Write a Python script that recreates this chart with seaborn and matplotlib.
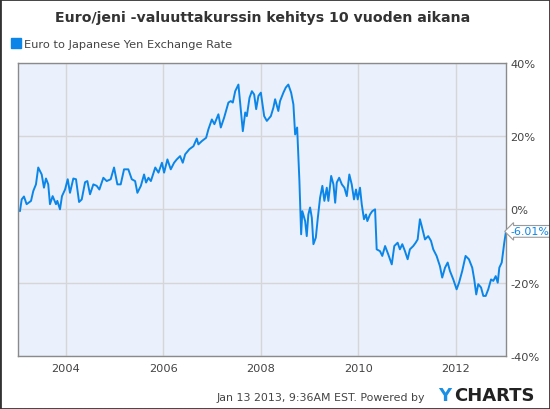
import numpy as np
import pandas as pd
import matplotlib
matplotlib.use("Agg")
import matplotlib.pyplot as plt
import matplotlib.dates as mdates
from matplotlib.lines import Line2D
from matplotlib.ticker import FixedLocator, FuncFormatter
import seaborn as sns

# Euro/JPY change vs. start (%)
dates = [
    "2003-01-24", "2003-02-06", "2003-02-23", "2003-03-15", "2003-04-17", "2003-05-04",
    "2003-05-24", "2003-06-10", "2003-07-06", "2003-07-23", "2003-08-07", "2003-08-24",
    "2003-09-06", "2003-09-26", "2003-10-21", "2003-10-31", "2003-11-20", "2003-12-05",
    "2003-12-28", "2004-01-17", "2004-02-03", "2004-02-28", "2004-03-19", "2004-04-11",
    "2004-05-01", "2004-05-26", "2004-06-12", "2004-07-02", "2004-07-27", "2004-08-21",
    "2004-09-10", "2004-10-10", "2004-11-04", "2004-12-04", "2004-12-29", "2005-01-23",
    "2005-02-17", "2005-03-14", "2005-04-15", "2005-05-11", "2005-06-05", "2005-06-22",
    "2005-07-18", "2005-08-11", "2005-08-26", "2005-09-13", "2005-10-01", "2005-11-03",
    "2005-11-27", "2005-12-23", "2006-01-08", "2006-02-02", "2006-02-27", "2006-03-24",
    "2006-04-13", "2006-05-08", "2006-05-28", "2006-06-15", "2006-07-17", "2006-08-16",
    "2006-09-10", "2006-09-22", "2006-10-18", "2006-11-19", "2006-12-06", "2007-01-01",
    "2007-01-20", "2007-02-19", "2007-03-09", "2007-04-03", "2007-05-05", "2007-05-23",
    "2007-06-07", "2007-06-25", "2007-07-19", "2007-08-01", "2007-08-21", "2007-09-08",
    "2007-09-20", "2007-10-10", "2007-10-28", "2007-11-14", "2007-11-29", "2007-12-16",
    "2008-01-03", "2008-01-28", "2008-02-17", "2008-03-18", "2008-04-06", "2008-04-19",
    "2008-05-13", "2008-05-26", "2008-06-20", "2008-07-08", "2008-07-27", "2008-08-17",
    "2008-09-03", "2008-09-16", "2008-10-01", "2008-10-18", "2008-10-31", "2008-11-09",
    "2008-11-30", "2008-12-12", "2008-12-24", "2009-01-06", "2009-01-19", "2009-01-31",
    "2009-02-18", "2009-03-05", "2009-03-22", "2009-04-08", "2009-04-23", "2009-05-11",
    "2009-05-23", "2009-06-13", "2009-06-30", "2009-07-13", "2009-07-25", "2009-08-12",
    "2009-09-01", "2009-09-20", "2009-10-08", "2009-10-27", "2009-11-14", "2009-12-01",
    "2009-12-16", "2009-12-29", "2010-01-15", "2010-01-28", "2010-02-14", "2010-03-01",
    "2010-03-11", "2010-03-31", "2010-04-17", "2010-05-08", "2010-05-20", "2010-06-14",
    "2010-07-01", "2010-07-22", "2010-08-15", "2010-09-10", "2010-09-29", "2010-10-24",
    "2010-11-10", "2010-11-28", "2010-12-18", "2011-01-07", "2011-01-24", "2011-02-18",
    "2011-03-08", "2011-03-23", "2011-04-09", "2011-04-22", "2011-05-17", "2011-06-10",
    "2011-07-01", "2011-07-18", "2011-08-12", "2011-09-06", "2011-09-23", "2011-10-14",
    "2011-11-03", "2011-11-20", "2011-12-15", "2012-01-09", "2012-01-27", "2012-02-20",
    "2012-03-16", "2012-04-10", "2012-05-05", "2012-05-20", "2012-06-04", "2012-06-19",
    "2012-07-10", "2012-07-27", "2012-08-14", "2012-09-02", "2012-09-23", "2012-10-10",
    "2012-10-28", "2012-11-12", "2012-11-24", "2012-12-12", "2012-12-31", "2013-01-13",
]
change_pct = [
    -0.5, 2.7, 3.5, 1.4, 2.3, 5.0,
    6.8, 11.4, 9.5, 5.9, 8.4, 6.8,
    1.4, 3.6, 1.4, 2.3, 0.0, 3.6,
    5.4, 8.2, 4.5, 8.4, 8.2, 2.0,
    2.7, 7.4, 7.7, 4.1, 6.8, 6.4,
    5.4, 8.6, 7.7, 8.2, 11.4, 6.8,
    6.8, 10.9, 10.9, 8.2, 7.7, 4.5,
    6.4, 9.5, 7.3, 8.6, 7.7, 11.4,
    10.0, 12.7, 10.0, 13.6, 10.9, 12.7,
    13.6, 14.5, 12.7, 15.0, 16.4, 17.2,
    19.3, 17.7, 18.6, 19.5, 21.8, 24.5,
    23.2, 25.9, 22.3, 25.0, 29.1, 29.5,
    29.1, 32.2, 34.0, 29.1, 21.3, 26.4,
    25.4, 30.4, 32.2, 31.3, 27.3, 30.9,
    31.8, 25.4, 24.1, 25.4, 27.7, 30.0,
    26.8, 29.5, 31.8, 33.2, 34.0, 31.8,
    28.6, 20.4, 22.3, 7.7, -6.8, -0.5,
    -3.2, -7.3, -1.4, 0.5, -2.3, -9.5,
    -7.7, -2.3, 3.2, 6.4, 2.3, 5.9,
    2.3, 9.1, 6.8, 1.8, 7.3, 8.6,
    6.8, 5.9, 3.6, 9.5, 6.8, 2.7,
    5.4, 2.7, 5.9, 1.4, -2.7, -1.4,
    -3.2, -1.4, -0.5, 0.0, -10.9, -11.4,
    -12.7, -10.0, -12.3, -15.0, -10.0, -9.1,
    -10.9, -9.5, -11.4, -13.6, -10.9, -10.0,
    -9.1, -8.2, -2.7, -4.5, -8.2, -7.3,
    -8.6, -10.9, -12.7, -15.5, -18.6, -15.9,
    -14.5, -16.8, -19.1, -21.8, -20.0, -16.8,
    -12.7, -13.6, -15.9, -19.1, -23.2, -20.4,
    -21.3, -23.6, -23.6, -21.8, -19.1, -19.5,
    -18.2, -20.0, -15.9, -14.5, -9.1, -6.01,
]
y_ticks = [40, 20, 0, -20, -40]
x_years = [2004, 2006, 2008, 2010, 2012]
series_name = "Euro to Japanese Yen Exchange Rate"
title = "Euro/jeni -valuuttakurssin kehitys 10 vuoden aikana"
footer = "Jan 13 2013, 9:36AM EST. Powered by "

df = pd.DataFrame({"date": pd.to_datetime(dates), "change": change_pct})

sns.set_style("white")
plt.rcParams["font.family"] = ["DejaVu Sans"]

line_color = "#0B86E8"
text_grey = "#444444"

fig = plt.figure(figsize=(5.5, 4.1), dpi=100)
ax = fig.add_axes([0.0336, 0.129, 0.8864, 0.716])
ax.set_facecolor("#EAF0FC")

sns.lineplot(data=df, x="date", y="change", ax=ax, color=line_color, linewidth=1.4)

ax.set_xlim(pd.Timestamp("2003-01-13"), pd.Timestamp("2013-01-13"))
ax.set_ylim(-40, 40)
ax.set_xlabel("")
ax.set_ylabel("")

ax.xaxis.set_major_locator(FixedLocator([mdates.date2num(pd.Timestamp(f"{y}-01-01")) for y in x_years]))
ax.xaxis.set_major_formatter(FuncFormatter(lambda v, p: mdates.num2date(v).strftime("%Y")))
ax.yaxis.set_major_locator(FixedLocator(y_ticks))
ax.yaxis.set_major_formatter(FuncFormatter(lambda v, p: f"{v:.0f}%"))
ax.yaxis.tick_right()
ax.tick_params(axis="both", length=0, labelsize=8.2, labelcolor=text_grey)
ax.tick_params(axis="x", pad=5)
ax.tick_params(axis="y", pad=3)
ax.grid(True, color="#D6D6D6", linewidth=1)
for s in ax.spines.values():
    s.set_color("#8A8A8A")
    s.set_linewidth(1)

# last value tag
last = df.iloc[-1]
ax.annotate(f"{last['change']:.2f}%", xy=(1, last["change"]), xycoords=("axes fraction", "data"),
            xytext=(3.5, 0), textcoords="offset points", va="center", ha="left",
            fontsize=7.9, color=line_color,
            bbox=dict(boxstyle="larrow,pad=0.08", fc="white", ec="#9A9A9A", lw=0.8))

fig.text(0.477, 0.955, title, ha="center", va="center", fontsize=10.2, fontweight="bold", color="#333333")

handle = Line2D([], [], marker="s", linestyle="", color=line_color, markersize=6.5)
fig.legend([handle], [series_name], loc="center left", bbox_to_anchor=(0.008, 0.891),
           frameon=False, fontsize=8.2, handletextpad=0.1, borderaxespad=0, handlelength=1.2,
           labelcolor=text_grey)

fig.text(0.78, 0.022, footer, ha="right", va="baseline", fontsize=7.9, color=text_grey)
fig.text(0.797, 0.022, "Y", ha="left", va="baseline", fontsize=13, fontweight="bold", color="#1A8FE3")
fig.text(0.826, 0.022, "CHARTS", ha="left", va="baseline", fontsize=13, fontweight="bold", color="#222222")

# outer border
fig.patches.append(plt.Rectangle((0, 0), 1, 1, transform=fig.transFigure, fill=False,
                                 edgecolor="#333333", linewidth=2))

fig.savefig("out.png", dpi=100)
